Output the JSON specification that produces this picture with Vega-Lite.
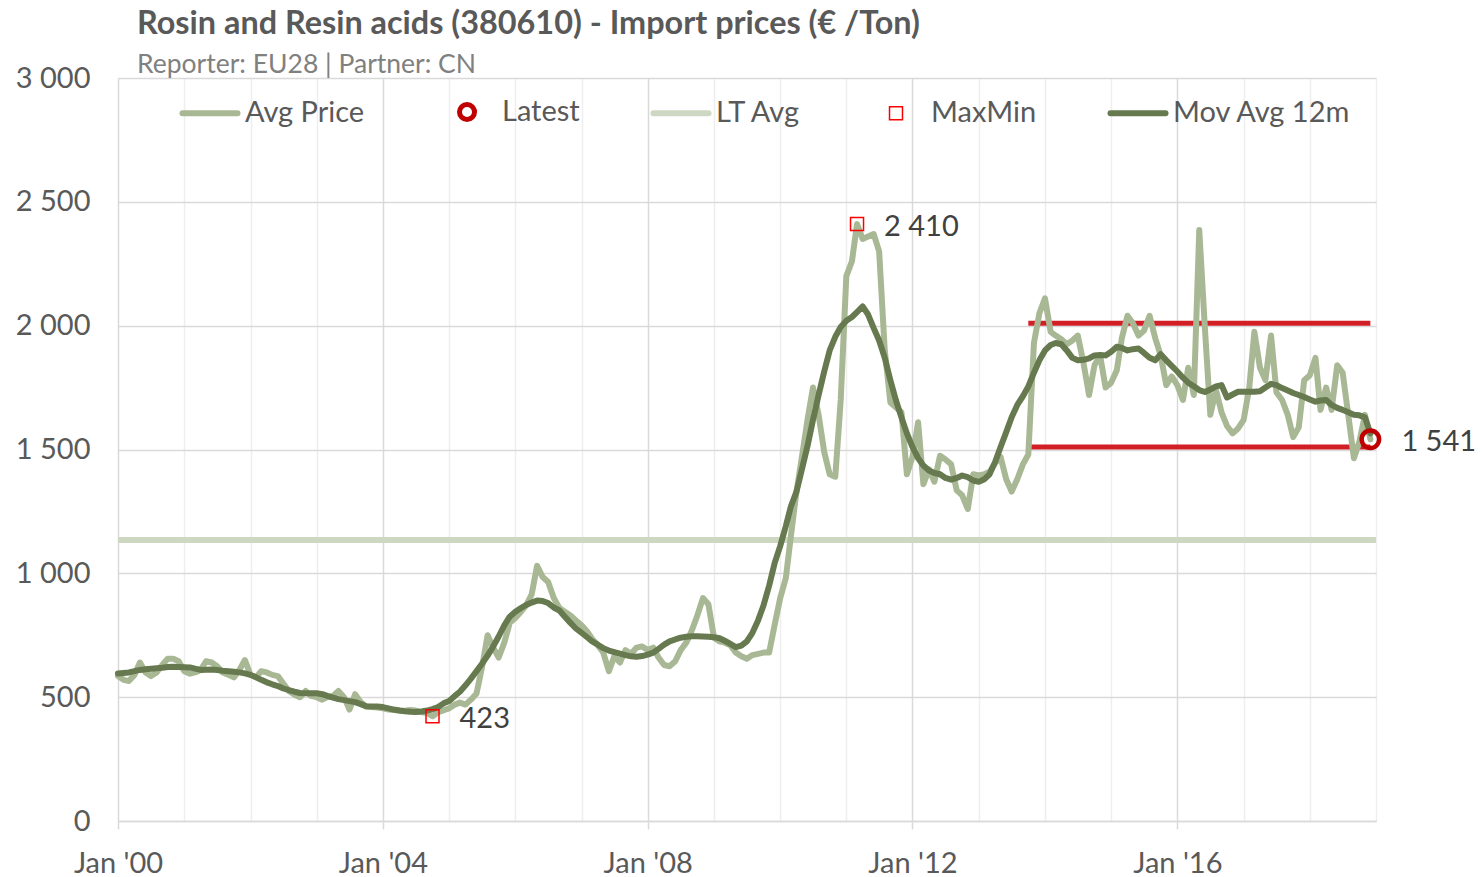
{
  "$schema": "https://vega.github.io/schema/vega-lite/v6.json",
  "width": 1258,
  "height": 743,
  "autosize": {"type": "none"},
  "padding": {"left": 118, "top": 78, "right": 107, "bottom": 56},
  "background": "white",
  "title": {
    "text": "Rosin and Resin acids (380610) - Import prices (€ /Ton)",
    "subtitle": "Reporter:  EU28  |  Partner: CN",
    "anchor": "start",
    "frame": "group",
    "dx": 19,
    "offset": -14,
    "font": "Lato",
    "fontSize": 32.4,
    "fontWeight": "bold",
    "color": "#595959",
    "subtitleFont": "Lato",
    "subtitleFontSize": 26.5,
    "subtitleColor": "#808080",
    "subtitlePadding": 11
  },
  "config": {
    "view": {"stroke": null},
    "font": "Lato",
    "locale": {"number": {"decimal": ",", "thousands": " ", "grouping": [3], "currency": ["", "€"]}}
  },
  "datasets": {
    "series": [
      {"d":"2000-01","p":585,"m":596},{"d":"2000-02","p":570,"m":598},{"d":"2000-03","p":565,"m":600},{"d":"2000-04","p":590,"m":605},{"d":"2000-05","p":640,"m":610},{"d":"2000-06","p":600,"m":613},{"d":"2000-07","p":585,"m":615},{"d":"2000-08","p":600,"m":617},{"d":"2000-09","p":630,"m":619},{"d":"2000-10","p":655,"m":622},{"d":"2000-11","p":655,"m":623},{"d":"2000-12","p":645,"m":622},
      {"d":"2001-01","p":605,"m":621},{"d":"2001-02","p":595,"m":620},{"d":"2001-03","p":600,"m":615},{"d":"2001-04","p":610,"m":610},{"d":"2001-05","p":645,"m":611},{"d":"2001-06","p":640,"m":612},{"d":"2001-07","p":625,"m":610},{"d":"2001-08","p":600,"m":607},{"d":"2001-09","p":590,"m":605},{"d":"2001-10","p":580,"m":603},{"d":"2001-11","p":610,"m":600},{"d":"2001-12","p":650,"m":596},
      {"d":"2002-01","p":590,"m":590},{"d":"2002-02","p":580,"m":580},{"d":"2002-03","p":605,"m":570},{"d":"2002-04","p":600,"m":560},{"d":"2002-05","p":590,"m":552},{"d":"2002-06","p":585,"m":545},{"d":"2002-07","p":555,"m":535},{"d":"2002-08","p":525,"m":528},{"d":"2002-09","p":510,"m":522},{"d":"2002-10","p":500,"m":517},{"d":"2002-11","p":525,"m":516},{"d":"2002-12","p":505,"m":516},
      {"d":"2003-01","p":500,"m":516},{"d":"2003-02","p":490,"m":512},{"d":"2003-03","p":500,"m":505},{"d":"2003-04","p":505,"m":498},{"d":"2003-05","p":525,"m":492},{"d":"2003-06","p":500,"m":488},{"d":"2003-07","p":450,"m":484},{"d":"2003-08","p":512,"m":480},{"d":"2003-09","p":480,"m":472},{"d":"2003-10","p":462,"m":463},{"d":"2003-11","p":460,"m":462},{"d":"2003-12","p":458,"m":462},
      {"d":"2004-01","p":455,"m":460},{"d":"2004-02","p":450,"m":455},{"d":"2004-03","p":448,"m":450},{"d":"2004-04","p":446,"m":446},{"d":"2004-05","p":445,"m":443},{"d":"2004-06","p":448,"m":441},{"d":"2004-07","p":446,"m":440},{"d":"2004-08","p":440,"m":442},{"d":"2004-09","p":436,"m":446},{"d":"2004-10","p":423,"m":452},{"d":"2004-11","p":440,"m":460},{"d":"2004-12","p":447,"m":475},
      {"d":"2005-01","p":455,"m":485},{"d":"2005-02","p":470,"m":505},{"d":"2005-03","p":478,"m":522},{"d":"2005-04","p":470,"m":548},{"d":"2005-05","p":490,"m":575},{"d":"2005-06","p":515,"m":605},{"d":"2005-07","p":620,"m":635},{"d":"2005-08","p":750,"m":668},{"d":"2005-09","p":700,"m":705},{"d":"2005-10","p":660,"m":745},{"d":"2005-11","p":720,"m":790},{"d":"2005-12","p":800,"m":825},
      {"d":"2006-01","p":820,"m":845},{"d":"2006-02","p":845,"m":860},{"d":"2006-03","p":870,"m":872},{"d":"2006-04","p":915,"m":882},{"d":"2006-05","p":1030,"m":890},{"d":"2006-06","p":985,"m":888},{"d":"2006-07","p":965,"m":880},{"d":"2006-08","p":900,"m":862},{"d":"2006-09","p":860,"m":850},{"d":"2006-10","p":845,"m":825},{"d":"2006-11","p":830,"m":800},{"d":"2006-12","p":810,"m":778},
      {"d":"2007-01","p":790,"m":760},{"d":"2007-02","p":765,"m":742},{"d":"2007-03","p":735,"m":725},{"d":"2007-04","p":710,"m":712},{"d":"2007-05","p":680,"m":698},{"d":"2007-06","p":605,"m":688},{"d":"2007-07","p":665,"m":682},{"d":"2007-08","p":640,"m":676},{"d":"2007-09","p":690,"m":670},{"d":"2007-10","p":675,"m":665},{"d":"2007-11","p":700,"m":663},{"d":"2007-12","p":705,"m":666},
      {"d":"2008-01","p":690,"m":672},{"d":"2008-02","p":700,"m":680},{"d":"2008-03","p":660,"m":695},{"d":"2008-04","p":630,"m":712},{"d":"2008-05","p":625,"m":725},{"d":"2008-06","p":645,"m":733},{"d":"2008-07","p":690,"m":740},{"d":"2008-08","p":720,"m":744},{"d":"2008-09","p":770,"m":746},{"d":"2008-10","p":830,"m":746},{"d":"2008-11","p":900,"m":745},{"d":"2008-12","p":875,"m":744},
      {"d":"2009-01","p":740,"m":742},{"d":"2009-02","p":725,"m":738},{"d":"2009-03","p":720,"m":728},{"d":"2009-04","p":710,"m":715},{"d":"2009-05","p":680,"m":702},{"d":"2009-06","p":665,"m":708},{"d":"2009-07","p":655,"m":725},{"d":"2009-08","p":670,"m":760},{"d":"2009-09","p":675,"m":810},{"d":"2009-10","p":680,"m":870},{"d":"2009-11","p":680,"m":950},{"d":"2009-12","p":790,"m":1040},
      {"d":"2010-01","p":900,"m":1110},{"d":"2010-02","p":980,"m":1190},{"d":"2010-03","p":1150,"m":1270},{"d":"2010-04","p":1330,"m":1330},{"d":"2010-05","p":1470,"m":1420},{"d":"2010-06","p":1620,"m":1515},{"d":"2010-07","p":1750,"m":1620},{"d":"2010-08","p":1640,"m":1720},{"d":"2010-09","p":1490,"m":1815},{"d":"2010-10","p":1400,"m":1900},{"d":"2010-11","p":1390,"m":1955},{"d":"2010-12","p":1700,"m":1995},
      {"d":"2011-01","p":2200,"m":2020},{"d":"2011-02","p":2260,"m":2035},{"d":"2011-03","p":2410,"m":2055},{"d":"2011-04","p":2350,"m":2078},{"d":"2011-05","p":2360,"m":2045},{"d":"2011-06","p":2370,"m":1990},{"d":"2011-07","p":2300,"m":1940},{"d":"2011-08","p":1900,"m":1870},{"d":"2011-09","p":1690,"m":1780},{"d":"2011-10","p":1670,"m":1700},{"d":"2011-11","p":1650,"m":1630},{"d":"2011-12","p":1400,"m":1565},
      {"d":"2012-01","p":1470,"m":1510},{"d":"2012-02","p":1610,"m":1465},{"d":"2012-03","p":1360,"m":1435},{"d":"2012-04","p":1420,"m":1415},{"d":"2012-05","p":1370,"m":1405},{"d":"2012-06","p":1475,"m":1400},{"d":"2012-07","p":1460,"m":1385},{"d":"2012-08","p":1440,"m":1378},{"d":"2012-09","p":1335,"m":1385},{"d":"2012-10","p":1315,"m":1395},{"d":"2012-11","p":1260,"m":1388},{"d":"2012-12","p":1400,"m":1375},
      {"d":"2013-01","p":1395,"m":1370},{"d":"2013-02","p":1400,"m":1380},{"d":"2013-03","p":1410,"m":1400},{"d":"2013-04","p":1445,"m":1450},{"d":"2013-05","p":1470,"m":1510},{"d":"2013-06","p":1380,"m":1570},{"d":"2013-07","p":1330,"m":1630},{"d":"2013-08","p":1380,"m":1680},{"d":"2013-09","p":1440,"m":1715},{"d":"2013-10","p":1480,"m":1755},{"d":"2013-11","p":1930,"m":1810},{"d":"2013-12","p":2050,"m":1860},
      {"d":"2014-01","p":2110,"m":1900},{"d":"2014-02","p":1975,"m":1922},{"d":"2014-03","p":1960,"m":1930},{"d":"2014-04","p":1945,"m":1925},{"d":"2014-05","p":1925,"m":1900},{"d":"2014-06","p":1940,"m":1870},{"d":"2014-07","p":1960,"m":1860},{"d":"2014-08","p":1850,"m":1862},{"d":"2014-09","p":1720,"m":1868},{"d":"2014-10","p":1840,"m":1880},{"d":"2014-11","p":1880,"m":1882},{"d":"2014-12","p":1750,"m":1880},
      {"d":"2015-01","p":1770,"m":1895},{"d":"2015-02","p":1820,"m":1915},{"d":"2015-03","p":1950,"m":1910},{"d":"2015-04","p":2040,"m":1900},{"d":"2015-05","p":2010,"m":1905},{"d":"2015-06","p":1960,"m":1908},{"d":"2015-07","p":1980,"m":1890},{"d":"2015-08","p":2040,"m":1870},{"d":"2015-09","p":1950,"m":1860},{"d":"2015-10","p":1880,"m":1885},{"d":"2015-11","p":1760,"m":1860},{"d":"2015-12","p":1795,"m":1838},
      {"d":"2016-01","p":1760,"m":1815},{"d":"2016-02","p":1700,"m":1790},{"d":"2016-03","p":1830,"m":1770},{"d":"2016-04","p":1720,"m":1755},{"d":"2016-05","p":2386,"m":1740},{"d":"2016-06","p":1990,"m":1732},{"d":"2016-07","p":1640,"m":1742},{"d":"2016-08","p":1740,"m":1755},{"d":"2016-09","p":1650,"m":1760},{"d":"2016-10","p":1595,"m":1710},{"d":"2016-11","p":1565,"m":1722},{"d":"2016-12","p":1585,"m":1733},
      {"d":"2017-01","p":1620,"m":1733},{"d":"2017-02","p":1750,"m":1733},{"d":"2017-03","p":1975,"m":1733},{"d":"2017-04","p":1830,"m":1735},{"d":"2017-05","p":1780,"m":1750},{"d":"2017-06","p":1960,"m":1765},{"d":"2017-07","p":1730,"m":1760},{"d":"2017-08","p":1700,"m":1748},{"d":"2017-09","p":1640,"m":1738},{"d":"2017-10","p":1550,"m":1728},{"d":"2017-11","p":1590,"m":1720},{"d":"2017-12","p":1780,"m":1712},
      {"d":"2018-01","p":1800,"m":1702},{"d":"2018-02","p":1870,"m":1693},{"d":"2018-03","p":1660,"m":1698},{"d":"2018-04","p":1750,"m":1700},{"d":"2018-05","p":1660,"m":1680},{"d":"2018-06","p":1840,"m":1668},{"d":"2018-07","p":1810,"m":1660},{"d":"2018-08","p":1640,"m":1650},{"d":"2018-09","p":1465,"m":1640},{"d":"2018-10","p":1530,"m":1638},{"d":"2018-11","p":1640,"m":1630},{"d":"2018-12","p":1541,"m":1565}
    ],
    "band": [
      {"d": "2013-10", "e": "2018-12", "v": 2010},
      {"d": "2013-10", "e": "2018-12", "v": 1510}
    ],
    "ltavg": [{"d": "2000-01", "e": "2019-01", "v": 1135}],
    "maxmin": [
      {"d": "2011-03", "v": 2410},
      {"d": "2004-10", "v": 423}
    ],
    "latest": [{"d": "2018-12", "v": 1541}]
  },
  "encoding": {
    "x": {
      "field": "d",
      "type": "temporal",
      "title": null,
      "scale": {"domain": [{"year": 2000, "month": 1, "date": 1}, {"year": 2019, "month": 1, "date": 1}], "nice": false},
      "axis": {
        "values": [
          {"year": 2000, "month": 1, "date": 1},{"year": 2001, "month": 1, "date": 1},{"year": 2002, "month": 1, "date": 1},{"year": 2003, "month": 1, "date": 1},
          {"year": 2004, "month": 1, "date": 1},{"year": 2005, "month": 1, "date": 1},{"year": 2006, "month": 1, "date": 1},{"year": 2007, "month": 1, "date": 1},
          {"year": 2008, "month": 1, "date": 1},{"year": 2009, "month": 1, "date": 1},{"year": 2010, "month": 1, "date": 1},{"year": 2011, "month": 1, "date": 1},
          {"year": 2012, "month": 1, "date": 1},{"year": 2013, "month": 1, "date": 1},{"year": 2014, "month": 1, "date": 1},{"year": 2015, "month": 1, "date": 1},
          {"year": 2016, "month": 1, "date": 1},{"year": 2017, "month": 1, "date": 1},{"year": 2018, "month": 1, "date": 1},{"year": 2019, "month": 1, "date": 1}
        ],
        "labelExpr": "year(datum.value) % 4 == 0 ? timeFormat(datum.value, \"%b '%y\") : ''",
        "labelFont": "Lato",
        "labelFontSize": 29,
        "labelColor": "#595959",
        "labelPadding": 20,
        "labelFlush": false,
        "labelOverlap": false,
        "domainColor": "#d9d9d9",
        "domainWidth": 1.5,
        "ticks": true,
        "tickSize": 8,
        "tickWidth": 1.5,
        "tickColor": {"condition": {"test": "year(datum.value) % 4 == 0", "value": "#d9d9d9"}, "value": "rgba(255,255,255,0)"},
        "grid": true,
        "gridColor": {"condition": {"test": "year(datum.value) % 4 == 0", "value": "#d9d9d9"}, "value": "#eeeeee"},
        "gridWidth": 1.5,
        "title": null
      }
    }
  },
  "layer": [
    {
      "data": {"name": "band", "format": {"parse": {"d": "date:'%Y-%m'", "e": "date:'%Y-%m'"}}},
      "mark": {"type": "rule", "strokeWidth": 5, "color": "#d21f26"},
      "encoding": {
        "x2": {"field": "e"},
        "y": {
          "field": "v",
          "type": "quantitative",
          "title": null,
          "scale": {"domain": [0, 3000], "nice": false},
          "axis": {
            "values": [0, 500, 1000, 1500, 2000, 2500, 3000],
            "format": ",d",
            "labelFont": "Lato",
            "labelFontSize": 29,
            "labelColor": "#595959",
            "labelPadding": 28,
            "domain": false,
            "ticks": false,
            "grid": true,
            "gridColor": "#d9d9d9",
            "gridWidth": 1.5,
            "title": null
          }
        }
      }
    },
    {
      "data": {"name": "ltavg", "format": {"parse": {"d": "date:'%Y-%m'", "e": "date:'%Y-%m'"}}},
      "mark": {"type": "rule", "strokeWidth": 6},
      "encoding": {
        "x2": {"field": "e"},
        "y": {"field": "v", "type": "quantitative", "title": null},
        "color": {"datum": "LT Avg"}
      }
    },
    {
      "data": {"name": "series", "format": {"parse": {"d": "date:'%Y-%m'"}}},
      "layer": [
        {
          "mark": {"type": "line", "strokeWidth": 6, "strokeJoin": "round", "strokeCap": "round"},
          "encoding": {
            "y": {"field": "p", "type": "quantitative", "title": null},
            "color": {
              "datum": "Avg Price",
              "scale": {
                "domain": ["Avg Price", "Latest", "LT Avg", "MaxMin", "Mov Avg 12m"],
                "range": ["#a9b894", "#c00000", "#cdd7c1", "#ff0000", "#67794f"]
              },
              "legend": {
                "orient": "none",
                "direction": "horizontal",
                "legendX": 62,
                "legendY": 19,
                "title": null,
                "padding": 0,
                "labelFont": "Lato",
                "labelFontSize": 29,
                "labelColor": "#595959",
                "labelOffset": 20.5,
                "labelLimit": 400,
                "symbolOffset": 15.5,
                "symbolSize": 3025,
                "symbolStrokeWidth": 6,
                "columnPadding": 61,
                "encode": {
                  "symbols": {
                    "update": {
                      "shape": {"signal": "datum.value === 'Latest' ? 'M-1.1,0 M1.1,0 M0.273,0 A0.273,0.273 0 1,1 -0.273,0 A0.273,0.273 0 1,1 0.273,0 Z' : (datum.value === 'MaxMin' ? 'M-1.1,0 M1.1,0 M-0.236,-0.236 L0.236,-0.236 L0.236,0.236 L-0.236,0.236 Z' : 'stroke')"},
                      "strokeWidth": {"signal": "datum.value === 'Latest' ? 5 : (datum.value === 'MaxMin' ? 1.5 : 6)"},
                      "fill": {"value": "transparent"},
                      "stroke": {"signal": "datum.value === 'Avg Price' ? '#a9b894' : (datum.value === 'Latest' ? '#c00000' : (datum.value === 'LT Avg' ? '#cdd7c1' : (datum.value === 'MaxMin' ? '#ff0000' : '#67794f')))"},
                      "strokeCap": {"value": "round"},
                      "opacity": {"value": 1},
                      "strokeOpacity": {"value": 1}
                    }
                  }
                }
              }
            }
          }
        },
        {
          "mark": {"type": "line", "strokeWidth": 6, "strokeJoin": "round", "strokeCap": "round"},
          "encoding": {
            "y": {"field": "m", "type": "quantitative", "title": null},
            "color": {"datum": "Mov Avg 12m"}
          }
        }
      ]
    },
    {
      "data": {"name": "maxmin", "format": {"parse": {"d": "date:'%Y-%m'"}}},
      "layer": [
        {
          "mark": {"type": "point", "shape": "square", "filled": false, "size": 169, "strokeWidth": 1.5, "opacity": 1},
          "encoding": {
            "y": {"field": "v", "type": "quantitative", "title": null},
            "color": {"datum": "MaxMin"}
          }
        },
        {
          "mark": {"type": "text", "align": "left", "baseline": "middle", "dx": 27, "dy": 3, "font": "Lato", "fontSize": 29, "color": "#404040"},
          "encoding": {
            "y": {"field": "v", "type": "quantitative", "title": null},
            "text": {"field": "v", "type": "quantitative", "format": ",d"}
          }
        }
      ]
    },
    {
      "data": {"name": "latest", "format": {"parse": {"d": "date:'%Y-%m'"}}},
      "layer": [
        {
          "mark": {"type": "point", "shape": "circle", "filled": false, "size": 306, "strokeWidth": 4.5, "opacity": 1},
          "encoding": {
            "y": {"field": "v", "type": "quantitative", "title": null},
            "color": {"datum": "Latest"}
          }
        },
        {
          "mark": {"type": "text", "align": "left", "baseline": "middle", "dx": 31, "dy": 3, "font": "Lato", "fontSize": 29, "color": "#404040"},
          "encoding": {
            "y": {"field": "v", "type": "quantitative", "title": null},
            "text": {"field": "v", "type": "quantitative", "format": ",d"}
          }
        }
      ]
    }
  ]
}
